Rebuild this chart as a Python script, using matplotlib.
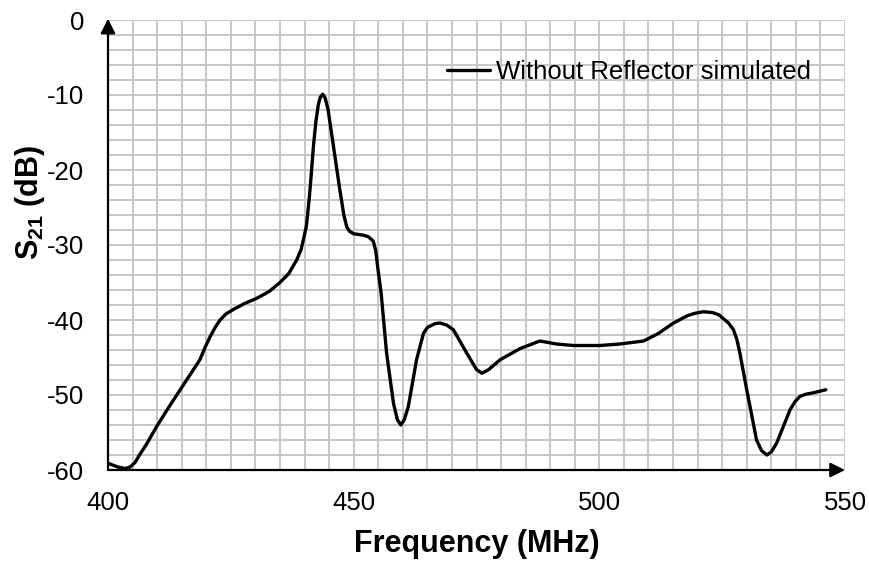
import matplotlib
matplotlib.use("Agg")
import matplotlib.pyplot as plt
import numpy as np

# ---- data ----
freq_mhz = [400.0, 402.0, 403.5, 404.5, 405.5, 406.5, 407.8, 409.9, 412.3, 414.7,
            416.8, 418.7, 419.8, 420.8, 421.8, 422.8, 424.0, 425.5, 427.8, 430.3,
            432.8, 435.0, 436.8, 438.4, 439.3, 439.8, 440.4, 441.0, 441.4, 441.8,
            442.3, 442.8, 443.2, 443.7, 444.2, 444.8, 445.9, 447.2, 448.0, 448.6,
            449.2, 450.0, 452.0, 453.0, 454.0, 454.5, 455.0, 455.6, 456.7, 458.1,
            458.9, 459.6, 460.3, 461.1, 462.8, 464.2, 465.0, 466.5, 467.6, 469.0,
            470.3, 473.0, 475.0, 476.1, 477.5, 479.8, 483.9, 487.9, 491.3, 494.7,
            500.1, 504.2, 509.0, 512.0, 515.1, 518.0, 519.5, 521.2, 523.0, 524.3,
            525.2, 526.3, 527.3, 528.0, 528.6, 530.0, 532.0, 533.0, 534.1, 535.0,
            536.1, 538.8, 539.8, 540.8, 542.0, 543.6, 546.1]
s21_db = [-59.1, -59.6, -59.8, -59.6, -59.0, -57.9, -56.6, -54.2, -51.7, -49.3,
          -47.2, -45.3, -43.6, -42.2, -41.0, -40.0, -39.2, -38.6, -37.8, -37.1,
          -36.2, -35.0, -33.8, -32.0, -30.6, -29.2, -27.4, -23.5, -20.3, -16.9,
          -13.6, -11.3, -10.3, -9.9, -10.4, -12.0, -16.9, -22.7, -26.0, -27.6,
          -28.2, -28.5, -28.7, -28.9, -29.5, -30.8, -33.5, -36.5, -44.4, -51.1,
          -53.3, -54.0, -53.3, -51.6, -45.3, -41.8, -41.0, -40.5, -40.4, -40.7,
          -41.3, -44.4, -46.6, -47.1, -46.6, -45.3, -43.8, -42.8, -43.2, -43.4,
          -43.4, -43.2, -42.8, -41.8, -40.4, -39.4, -39.1, -38.9, -39.0, -39.3,
          -39.8, -40.4, -41.3, -42.6, -44.4, -49.3, -56.0, -57.4, -58.0, -57.6,
          -56.4, -52.0, -50.9, -50.2, -49.9, -49.7, -49.3]
x_ticks = [400, 450, 500, 550]
y_ticks = [0, -10, -20, -30, -40, -50, -60]
series_label = "Without Reflector simulated"

plt.rcParams['font.family'] = ['Liberation Sans', 'DejaVu Sans']
plt.rcParams['axes.unicode_minus'] = False
plt.rcParams['mathtext.fontset'] = 'custom'
plt.rcParams['mathtext.rm'] = 'Liberation Sans:bold'
plt.rcParams['mathtext.bf'] = 'Liberation Sans:bold'
plt.rcParams['mathtext.it'] = 'Liberation Sans:italic:bold'

fig = plt.figure(figsize=(8.69, 5.61), dpi=100)
ax = fig.add_axes([108/869, 1-470/561, (845-108)/869, (470-20)/561])

ax.set_xlim(400, 550)
ax.set_ylim(-60, 0)
ax.set_xticks(x_ticks)
ax.set_yticks(y_ticks)
ax.set_xticks(np.arange(400, 551, 5), minor=True)
ax.set_yticks(np.arange(-60, 1, 2), minor=True)
ax.grid(which='both', color='#c6c6c6', linewidth=1.4)
ax.set_axisbelow(True)
ax.tick_params(which='both', length=0)
ax.tick_params(axis='x', labelsize=18.5, pad=15)
ax.tick_params(axis='y', labelsize=18.5, pad=17)

for s in ax.spines.values():
    s.set_visible(False)

ax.plot(freq_mhz, s21_db, color='black', linewidth=2.4, label=series_label,
        solid_joinstyle='round', solid_capstyle='round', zorder=3)

# axis arrows
arrow = dict(arrowstyle='-|>', color='black', lw=1.6, mutation_scale=22,
             shrinkA=0, shrinkB=0)
ax.annotate('', xy=(0, 1.003), xytext=(0, 0), xycoords='axes fraction',
            arrowprops=arrow, annotation_clip=False, zorder=4)
ax.annotate('', xy=(1.0, 0), xytext=(0, 0), xycoords='axes fraction',
            arrowprops=arrow, annotation_clip=False, zorder=4)

ax.set_xlabel('Frequency (MHz)', fontsize=22, fontweight='bold', labelpad=10)
ax.set_ylabel(r'S$_{\mathit{21}}$ (dB)', fontsize=22, fontweight='bold')
ax.yaxis.set_label_coords(-0.083, 0.595)

ax.legend(loc='center left', bbox_to_anchor=(0.46, 0.884), frameon=False,
          fontsize=18.5, handlelength=1.67, handletextpad=0.25,
          borderpad=0, borderaxespad=0)

fig.savefig('out.png', dpi=100)
